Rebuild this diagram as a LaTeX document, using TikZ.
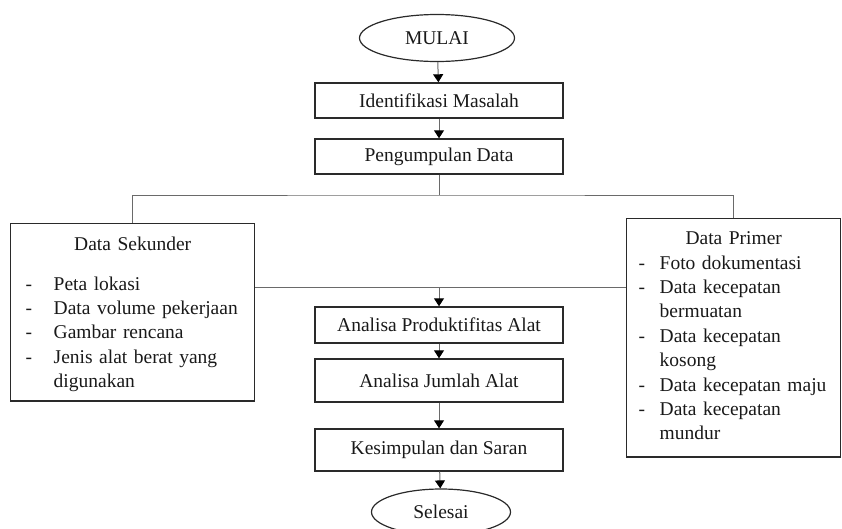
\documentclass[tikz,border=0pt]{standalone}
\usepackage{fontspec}
\setmainfont{Liberation Serif}
\usetikzlibrary{shapes.geometric,arrows.meta}
\definecolor{boxgray}{HTML}{2A2A2A}
\definecolor{linegray}{HTML}{6A6A6A}
\newcommand{\sekunderdash}{\makebox[28pt][l]{-}}
\newcommand{\primerdash}{\makebox[21pt][l]{-}}
\begin{document}
\begin{tikzpicture}
[x=1pt,y=-1pt,
  textdecorate/.style={font=\fontsize{19.5}{24.4}\selectfont,text=black!90},
  terminaldecorate/.style={shape=ellipse,draw=boxgray,line width=1.2pt,inner sep=0pt,textdecorate},
  boxdecorate/.style={shape=rectangle,draw=boxgray,line width=1.4pt,minimum width=248pt,inner sep=0pt,textdecorate},
  listdecorate/.style={shape=rectangle,draw=boxgray,line width=1.4pt,anchor=north west,inner ysep=13pt,textdecorate},
  linedecorate/.style={-,draw=linegray,line width=1pt},
  arrowdecorate/.style={-{Triangle[length=8pt,width=10pt,color=black]},draw=linegray,line width=1pt}]
\useasboundingbox (0,0) rectangle (842,528);
%% start and end
\node (mulai) at (437,38) [terminaldecorate,minimum width=155pt,minimum height=47pt] {MULAI};
\node (selesai) at (441,512) [terminaldecorate,minimum width=139pt,minimum height=46pt] {Selesai};
%% process boxes
\foreach \nodename/\y/\h/\txt in {identifikasi/100.5/35/Identifikasi Masalah,
  pengumpulan/156.5/35/Pengumpulan Data, produktifitas/325/36/Analisa Produktifitas Alat,
  jumlah/380.5/43/Analisa Jumlah Alat, kesimpulan/450/42/Kesimpulan dan Saran} {
  \node (\nodename) at (439,\y) [boxdecorate,minimum height=\h pt] {\txt};
}
%% data boxes
\node (sekunder) at (10,223) [listdecorate,inner xsep=15pt,text width=214pt]
  {{\centering Data Sekunder\par}\vspace{15.5pt}\raggedright
  \sekunderdash Peta lokasi\\
  \sekunderdash Data volume pekerjaan\\
  \sekunderdash Gambar rencana\\
  \sekunderdash Jenis alat berat yang\\
  \hspace*{28pt}digunakan\par\vspace{-4pt}};
\node (primer) at (626,218) [listdecorate,inner xsep=12pt,text width=190pt]
  {{\centering Data Primer\par}\raggedright
  \primerdash Foto dokumentasi\\
  \primerdash Data kecepatan\\
  \hspace*{21pt}bermuatan\\
  \primerdash Data kecepatan\\
  \hspace*{21pt}kosong\\
  \primerdash Data kecepatan maju\\
  \primerdash Data kecepatan\\
  \hspace*{21pt}mundur\par\vspace{4pt}};
%% branch and merge points
\coordinate (split) at (439,195);
\coordinate (merge) at (439,287);
%% edges or lines
\draw[linedecorate] (pengumpulan) -- (split);
\draw[linedecorate] (sekunder.north) |- (split) -| (primer.north);
\draw[linedecorate] (sekunder.east |- merge) -- (primer.west |- merge);
\path
\foreach \startnode/\endnode in {mulai/identifikasi, identifikasi/pengumpulan,
  merge/produktifitas, produktifitas/jumlah, jumlah/kesimpulan, kesimpulan/selesai} {
  (\startnode) edge[arrowdecorate] (\endnode)
};
\end{tikzpicture}
\end{document}
